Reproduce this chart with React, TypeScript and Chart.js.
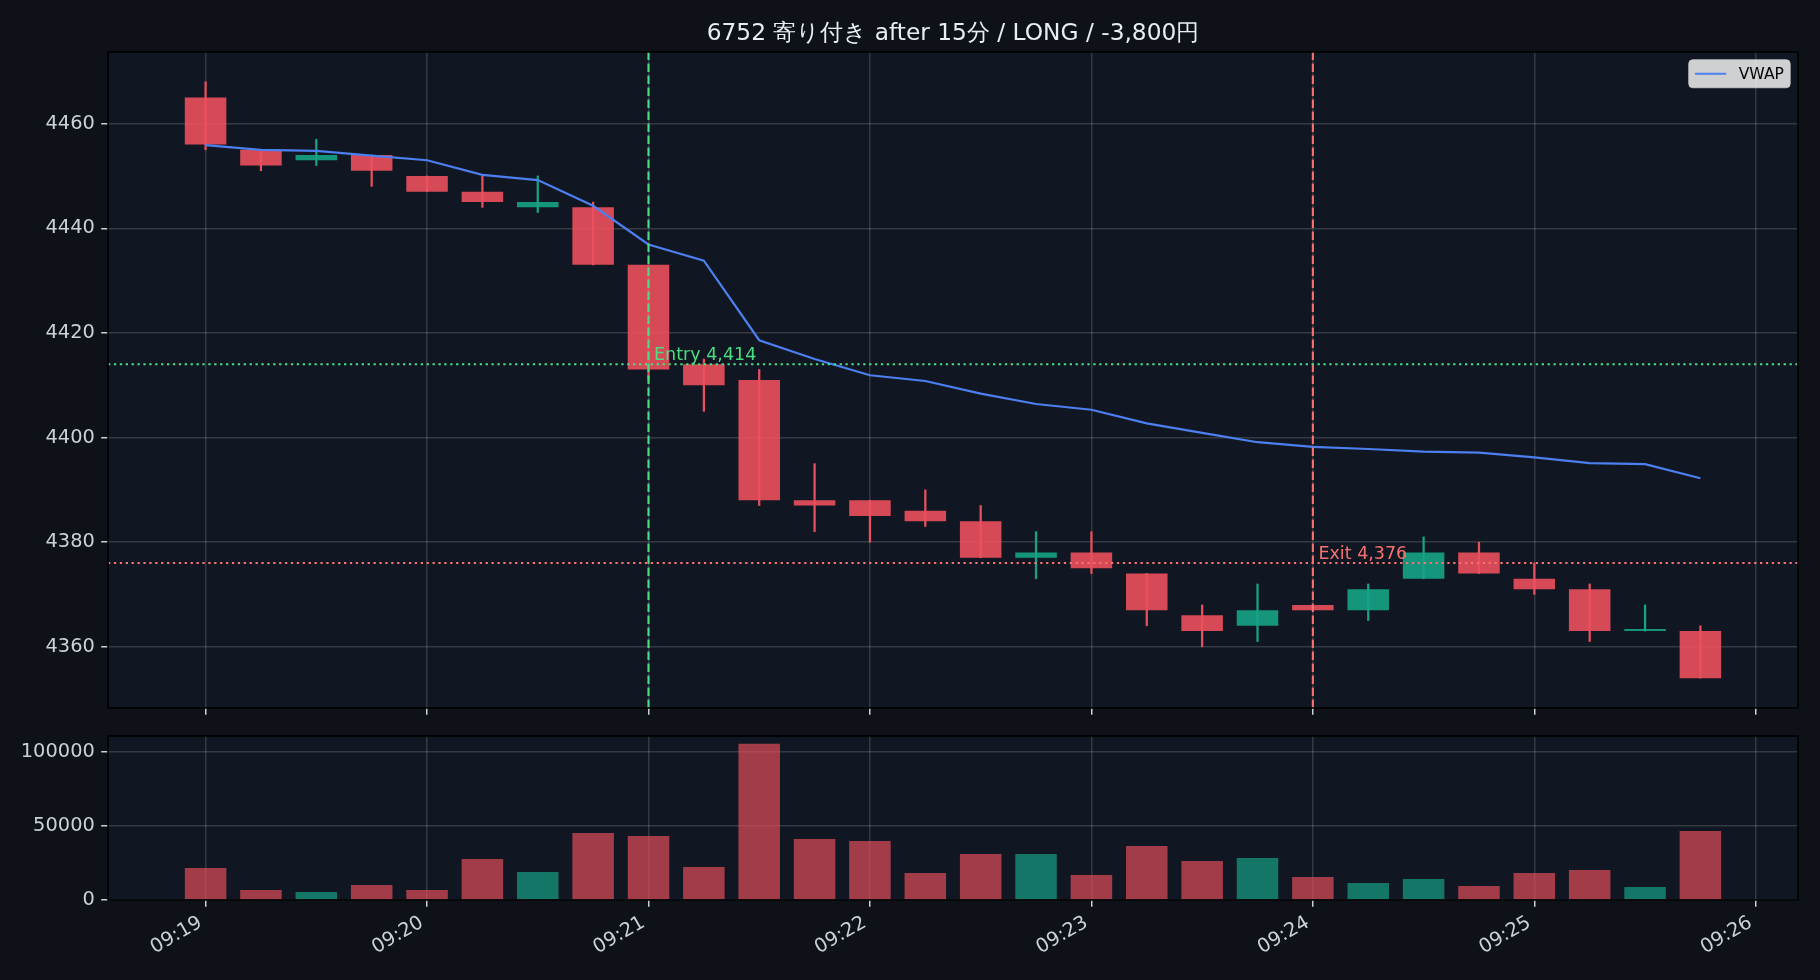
import React, { useEffect, useRef } from 'react';
import { Chart, registerables } from 'chart.js';

Chart.register(...registerables);

// ---- data ---------------------------------------------------------------
const TITLE = '6752 寄り付き after 15分 / LONG / -3,800円';

const BAR_TIMES = [
  '09:19:00', '09:19:15', '09:19:30', '09:19:45',
  '09:20:00', '09:20:15', '09:20:30', '09:20:45',
  '09:21:00', '09:21:15', '09:21:30', '09:21:45',
  '09:22:00', '09:22:15', '09:22:30', '09:22:45',
  '09:23:00', '09:23:15', '09:23:30', '09:23:45',
  '09:24:00', '09:24:15', '09:24:30', '09:24:45',
  '09:25:00', '09:25:15', '09:25:30', '09:25:45',
];

const OPEN = [4465, 4455, 4453, 4454, 4450, 4447, 4444, 4444, 4433, 4414, 4411, 4388, 4388, 4386, 4384, 4377, 4378, 4374, 4366, 4364, 4368, 4367, 4373, 4378, 4373, 4371, 4363, 4363];
const HIGH = [4468, 4455, 4457, 4454, 4450, 4450, 4450, 4445, 4433, 4415, 4413, 4395, 4388, 4390, 4387, 4382, 4382, 4374, 4368, 4372, 4368, 4372, 4381, 4380, 4376, 4372, 4368, 4364];
const LOW = [4455, 4451, 4452, 4448, 4447, 4444, 4443, 4433, 4411, 4405, 4387, 4382, 4380, 4383, 4377, 4373, 4374, 4364, 4360, 4361, 4367, 4365, 4373, 4374, 4370, 4361, 4363, 4354];
const CLOSE = [4456, 4452, 4454, 4451, 4447, 4445, 4445, 4433, 4413, 4410, 4388, 4387, 4385, 4384, 4377, 4378, 4375, 4367, 4363, 4367, 4367, 4371, 4378, 4374, 4371, 4363, 4363, 4354];
const VOLUME = [21600, 6750, 5400, 10100, 6750, 27700, 18900, 45300, 43200, 22300, 105400, 41200, 39900, 18200, 31100, 31100, 16900, 36500, 26400, 28400, 15500, 11500, 14200, 9500, 18200, 20300, 8800, 46600];
const VWAP = [4455.9, 4455.0, 4454.8, 4453.9, 4453.0, 4450.2, 4449.2, 4444.3, 4436.9, 4433.8, 4418.6, 4415.0, 4411.9, 4410.8, 4408.4, 4406.4, 4405.3, 4402.7, 4400.9, 4399.1, 4398.2, 4397.8, 4397.3, 4397.1, 4396.2, 4395.1, 4394.9, 4392.2];

const X_TICK_LABELS = ['09:19', '09:20', '09:21', '09:22', '09:23', '09:24', '09:25', '09:26'];
const PRICE_TICKS = [4360, 4380, 4400, 4420, 4440, 4460];
const VOLUME_TICKS = [0, 50000, 100000];

const ENTRY_TIME = '09:21';
const ENTRY_PRICE = 4414;
const EXIT_TIME = '09:24';
const EXIT_PRICE = 4376;
const VWAP_LABEL = 'VWAP';

// ---- style --------------------------------------------------------------
const FONT = '"DejaVu Sans", sans-serif';
const FIG_BG = '#0e1117';
const AX_BG = '#111722';
const GRID = 'rgba(255,255,255,0.15)';
const TICK_TEXT = '#c9d1d9';
const TITLE_TEXT = '#e6edf3';
const UP = '#16a386';
const DOWN = '#e8505e';
const UP_BODY = 'rgba(22,163,134,0.9)';
const DOWN_BODY = 'rgba(236,80,94,0.9)';
const UP_VOL = 'rgba(22,163,134,0.68)';
const DOWN_VOL = 'rgba(232,78,92,0.68)';
const VWAP_COLOR = '#4c7ff0';
const ENTRY_COLOR = '#4ade80';
const EXIT_COLOR = '#f87171';

const W = 1820;
const PRICE_H = 726;
const VOL_TOP = 718;
const VOL_H = 262;
const AX_LEFT = 108;
const AX_RIGHT = 1798;
const TICK_FONT = 19.4;
const TICK_PAD = 6.4;

// ---- helpers ------------------------------------------------------------
const absSeconds = (t: string) => {
  const [h, m, s = 0] = t.split(':').map(Number);
  return h * 3600 + m * 60 + s;
};
const ORIGIN = absSeconds(BAR_TIMES[0]);
const toX = (t: string) => absSeconds(t) - ORIGIN;

const XS = BAR_TIMES.map(toX);
const X_TICK_VALUES = X_TICK_LABELS.map(toX);
const IS_UP = OPEN.map((o, i) => CLOSE[i] >= o);

const BAR_FRACTION = 0.75;
const step = XS[1] - XS[0];
const xLo0 = XS[0] - (step * BAR_FRACTION) / 2;
const xHi0 = XS[XS.length - 1] + (step * BAR_FRACTION) / 2;
const X_MIN = xLo0 - (xHi0 - xLo0) * 0.05;
const X_MAX = xHi0 + (xHi0 - xLo0) * 0.05;

const yLo0 = Math.min(...LOW, ...VWAP);
const yHi0 = Math.max(...HIGH, ...VWAP);
const Y_MIN = yLo0 - (yHi0 - yLo0) * 0.05;
const Y_MAX = yHi0 + (yHi0 - yLo0) * 0.05;
const VOL_MAX = Math.max(...VOLUME) * 1.05;

const fmt = (v: number) => v.toLocaleString('en-US');
const xLabel = (v: number) => {
  const i = X_TICK_VALUES.indexOf(v);
  return i >= 0 ? X_TICK_LABELS[i] : '';
};

const axesBackground = {
  id: 'axesBackground',
  beforeDraw(chart: any) {
    const { ctx, chartArea: a } = chart;
    ctx.save();
    ctx.fillStyle = AX_BG;
    ctx.fillRect(a.left, a.top, a.right - a.left, a.bottom - a.top);
    ctx.restore();
  },
};

const spines = {
  id: 'spines',
  afterDraw(chart: any) {
    const { ctx, chartArea: a } = chart;
    ctx.save();
    ctx.strokeStyle = '#000000';
    ctx.lineWidth = 1.6;
    ctx.strokeRect(a.left, a.top, a.right - a.left, a.bottom - a.top);
    ctx.restore();
  },
};

const tradeLabels = {
  id: 'tradeLabels',
  afterDatasetsDraw(chart: any) {
    const { ctx, scales } = chart;
    const xs = scales.x;
    const ys = scales.y;
    ctx.save();
    ctx.font = `17.5px ${FONT}`;
    ctx.textAlign = 'left';
    ctx.textBaseline = 'bottom';
    ctx.fillStyle = ENTRY_COLOR;
    ctx.fillText(` Entry ${fmt(ENTRY_PRICE)}`, xs.getPixelForValue(toX(ENTRY_TIME)), ys.getPixelForValue(ENTRY_PRICE));
    ctx.fillStyle = EXIT_COLOR;
    ctx.fillText(` Exit ${fmt(EXIT_PRICE)}`, xs.getPixelForValue(toX(EXIT_TIME)), ys.getPixelForValue(EXIT_PRICE));
    ctx.restore();
  },
};

const vwapLegend = {
  id: 'vwapLegend',
  afterDraw(chart: any) {
    const { ctx, chartArea: a } = chart;
    const fs = 15.6;
    ctx.save();
    ctx.font = `${fs}px ${FONT}`;
    const tw = ctx.measureText(VWAP_LABEL).width;
    const pad = 0.4 * fs;
    const handle = 2 * fs;
    const gap = 0.8 * fs;
    const w = pad * 2 + handle + gap + tw;
    const h = 28;
    const left = a.right - 0.5 * fs - w;
    const top = a.top + 0.5 * fs;
    ctx.fillStyle = 'rgba(255,255,255,0.8)';
    ctx.strokeStyle = 'rgba(204,204,204,0.8)';
    ctx.lineWidth = 1;
    ctx.beginPath();
    ctx.roundRect(left, top, w, h, 4);
    ctx.fill();
    ctx.stroke();
    ctx.strokeStyle = VWAP_COLOR;
    ctx.lineWidth = 2.2;
    ctx.beginPath();
    ctx.moveTo(left + pad, top + h / 2);
    ctx.lineTo(left + pad + handle, top + h / 2);
    ctx.stroke();
    ctx.fillStyle = '#000000';
    ctx.textAlign = 'left';
    ctx.textBaseline = 'middle';
    ctx.fillText(VWAP_LABEL, left + pad + handle + gap, top + h / 2 + 1);
    ctx.restore();
  },
};

const gridOpts = {
  color: GRID,
  lineWidth: 1.5,
  tickColor: TICK_TEXT,
  tickLength: 6.8,
  drawTicks: true,
  offset: false,
};

const refLine = (pts: { x: number; y: number }[], color: string, dash: number[]) => ({
  type: 'line' as const,
  data: pts,
  borderColor: color,
  borderWidth: 2.1,
  borderDash: dash,
  pointRadius: 0,
  fill: false,
  order: 0,
});

function priceConfig(): any {
  const entryX = toX(ENTRY_TIME);
  const exitX = toX(EXIT_TIME);
  const DOT = [2.3, 3.6];
  const DASH = [8.4, 3.6];
  return {
    type: 'bar',
    data: {
      datasets: [
        {
          type: 'bar',
          label: 'wick',
          data: XS.map((x, i) => ({ x, y: [LOW[i], HIGH[i]] })),
          backgroundColor: IS_UP.map((u) => (u ? UP : DOWN)),
          barThickness: 1.6,
          grouped: false,
          order: 3,
        },
        {
          type: 'bar',
          label: 'body',
          data: XS.map((x, i) => ({ x, y: [OPEN[i], CLOSE[i]] })),
          backgroundColor: IS_UP.map((u) => (u ? UP_BODY : DOWN_BODY)),
          barPercentage: BAR_FRACTION,
          categoryPercentage: 1,
          minBarLength: 2,
          grouped: false,
          order: 2,
        },
        {
          type: 'line',
          label: VWAP_LABEL,
          data: XS.map((x, i) => ({ x, y: VWAP[i] })),
          borderColor: VWAP_COLOR,
          borderWidth: 2.2,
          pointRadius: 0,
          tension: 0,
          fill: false,
          order: 1,
        },
        refLine([{ x: X_MIN, y: ENTRY_PRICE }, { x: X_MAX, y: ENTRY_PRICE }], ENTRY_COLOR, DOT),
        refLine([{ x: X_MIN, y: EXIT_PRICE }, { x: X_MAX, y: EXIT_PRICE }], EXIT_COLOR, DOT),
        refLine([{ x: entryX, y: Y_MIN }, { x: entryX, y: Y_MAX }], ENTRY_COLOR, DASH),
        refLine([{ x: exitX, y: Y_MIN }, { x: exitX, y: Y_MAX }], EXIT_COLOR, DASH),
      ],
    },
    options: {
      animation: false,
      responsive: false,
      devicePixelRatio: 1,
      events: [],
      layout: { padding: { left: 0, right: W - AX_RIGHT, top: 0, bottom: 0 } },
      plugins: {
        legend: { display: false },
        tooltip: { enabled: false },
        title: {
          display: true,
          text: TITLE,
          color: TITLE_TEXT,
          fullSize: false,
          align: 'center',
          font: { family: FONT, size: 23.3, weight: 'normal', lineHeight: 1.2 },
          padding: { top: 19.5, bottom: 4.5 },
        },
      },
      scales: {
        x: {
          type: 'linear',
          offset: false,
          min: X_MIN,
          max: X_MAX,
          grid: gridOpts,
          border: { display: false },
          ticks: { display: false },
          afterBuildTicks: (s: any) => {
            s.ticks = X_TICK_VALUES.map((value) => ({ value }));
          },
          afterFit: (s: any) => {
            s.height = 12;
          },
        },
        y: {
          type: 'linear',
          min: Y_MIN,
          max: Y_MAX,
          grid: gridOpts,
          border: { display: false },
          ticks: {
            color: TICK_TEXT,
            font: { family: FONT, size: TICK_FONT },
            padding: TICK_PAD,
            callback: (v: number) => String(v),
          },
          afterBuildTicks: (s: any) => {
            s.ticks = PRICE_TICKS.map((value) => ({ value }));
          },
          afterFit: (s: any) => {
            s.width = AX_LEFT;
          },
        },
      },
    },
    plugins: [axesBackground, tradeLabels, spines, vwapLegend],
  };
}

function volumeConfig(): any {
  return {
    type: 'bar',
    data: {
      datasets: [
        {
          label: 'Volume',
          data: XS.map((x, i) => ({ x, y: VOLUME[i] })),
          backgroundColor: IS_UP.map((u) => (u ? UP_VOL : DOWN_VOL)),
          barPercentage: BAR_FRACTION,
          categoryPercentage: 1,
        },
      ],
    },
    options: {
      animation: false,
      responsive: false,
      devicePixelRatio: 1,
      events: [],
      layout: { padding: { left: 0, right: W - AX_RIGHT, top: 0, bottom: 0 } },
      plugins: { legend: { display: false }, tooltip: { enabled: false }, title: { display: false } },
      scales: {
        x: {
          type: 'linear',
          offset: false,
          min: X_MIN,
          max: X_MAX,
          grid: gridOpts,
          border: { display: false },
          ticks: {
            color: TICK_TEXT,
            font: { family: FONT, size: TICK_FONT },
            padding: 4.5,
            labelOffset: -5,
            autoSkip: false,
            minRotation: 30,
            maxRotation: 30,
            callback: (v: number) => xLabel(v),
          },
          afterBuildTicks: (s: any) => {
            s.ticks = X_TICK_VALUES.map((value) => ({ value }));
          },
          afterFit: (s: any) => {
            s.height = 80;
          },
        },
        y: {
          type: 'linear',
          min: 0,
          max: VOL_MAX,
          grid: gridOpts,
          border: { display: false },
          ticks: {
            color: TICK_TEXT,
            font: { family: FONT, size: TICK_FONT },
            padding: TICK_PAD,
            callback: (v: number) => String(v),
          },
          afterBuildTicks: (s: any) => {
            s.ticks = VOLUME_TICKS.map((value) => ({ value }));
          },
          afterFit: (s: any) => {
            s.width = AX_LEFT;
          },
        },
      },
    },
    plugins: [axesBackground, spines],
  };
}

export default function App() {
  const priceRef = useRef<HTMLCanvasElement>(null);
  const volRef = useRef<HTMLCanvasElement>(null);

  useEffect(() => {
    const price = new Chart(priceRef.current as HTMLCanvasElement, priceConfig());
    const vol = new Chart(volRef.current as HTMLCanvasElement, volumeConfig());
    return () => {
      price.destroy();
      vol.destroy();
    };
  }, []);

  return (
    <div style={{ position: 'fixed', left: 0, top: 0, width: W, height: 980, background: FIG_BG }}>
      <canvas ref={priceRef} width={W} height={PRICE_H} style={{ position: 'absolute', left: 0, top: 0 }} />
      <canvas ref={volRef} width={W} height={VOL_H} style={{ position: 'absolute', left: 0, top: VOL_TOP }} />
    </div>
  );
}
